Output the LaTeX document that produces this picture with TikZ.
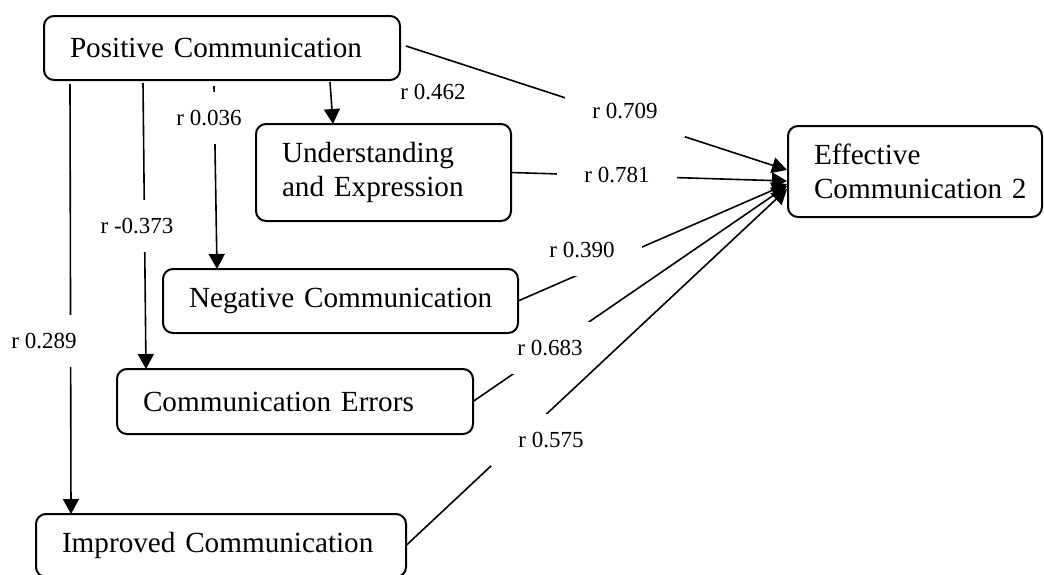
\documentclass[tikz,border=0pt]{standalone}
\usepackage{fontspec}
\setmainfont{Liberation Serif}
\usetikzlibrary{arrows.meta,calc,backgrounds}

\tikzset{
  varbox/.style={draw, line width=1pt, rounded corners=5pt, anchor=north west,
    inner xsep=13pt, inner ysep=0pt, outer sep=0pt, align=left,
    font=\fontsize{14.6}{16.8}\selectfont,
    execute at begin node={\hyphenpenalty=10000\relax}},
  rlink/.style={line width=0.8pt, -{Triangle[width=8pt,length=7.5pt]}},
  coef/.style={fill=white, inner xsep=13.5pt, inner ysep=9pt,
    font=\fontsize{11.5}{13.8}\selectfont},
}

\begin{document}
\begin{tikzpicture}[x=0.5pt,y=-0.5pt]
  \useasboundingbox (0,0) rectangle (1044,574);

  % variables
  \node[varbox, text width=152pt, minimum height=32pt] (pc) at (44,16) {Positive~Communication};
  \node[varbox, text width=101.5pt, minimum height=48.5pt] (ue) at (256,124) {Understanding\\and Expression};
  \node[varbox, text width=151.5pt, minimum height=32pt] (nc) at (163,269) {Negative~Communication};
  \node[varbox, text width=152pt, minimum height=32.5pt] (ce) at (117,369) {Communication~Errors};
  \node[varbox, text width=159pt, minimum height=31.5pt] (ic) at (36,514) {Improved~Communication};
  \node[varbox, text width=101pt, minimum height=45.5pt] (ec) at (788,126) {Effective\\Communication~2};

  \begin{scope}[on background layer]
    % paths out of Positive Communication
    \draw[rlink] ($(pc.south west)+(286,2)$) -- ($(ue.north west)+(77,0)$);
    \node[coef] (r462) at (433,92) {r 0.462};
    \draw[rlink] ($(pc.south west)+(170,6)$) -- ($(nc.north west)+(54,0)$);
    \node[coef] (r036) at (209,118) {r 0.036};
    \draw[rlink] ($(pc.south west)+(99,3)$) -- ($(ce.north west)+(29,0)$);
    \node[coef] (r373) at (137,226) {r -0.373};
    \draw[rlink] ($(pc.south west)+(26,4)$) -- ($(ic.north west)+(35,0)$);
    \node[coef] (r289) at (44,341) {r 0.289};

    % paths into Effective Communication 2
    \draw[rlink] ($(pc.east)+(6,-2)$) -- ($(ec.west)+(-1,-1.5)$);
    \node[coef] (r709) at (625,111) {r 0.709};
    \draw[rlink] (ue.east) -- ($(ec.west)+(-1,9.5)$);
    \node[coef] (r781) at (617,175) {r 0.781};
    \draw[rlink] (nc.east) -- ($(ec.west)+(-1,12.5)$);
    \node[coef] (r390) at (582,250) {r 0.390};
    \draw[rlink] (ce.east) -- ($(ec.west)+(-1,14.5)$);
    \node[coef] (r683) at (550,348) {r 0.683};
    \draw[rlink] (ic.east) -- ($(ec.west)+(-1,17.5)$);
    \node[coef] (r575) at (551,440) {r 0.575};
  \end{scope}
\end{tikzpicture}
\end{document}
